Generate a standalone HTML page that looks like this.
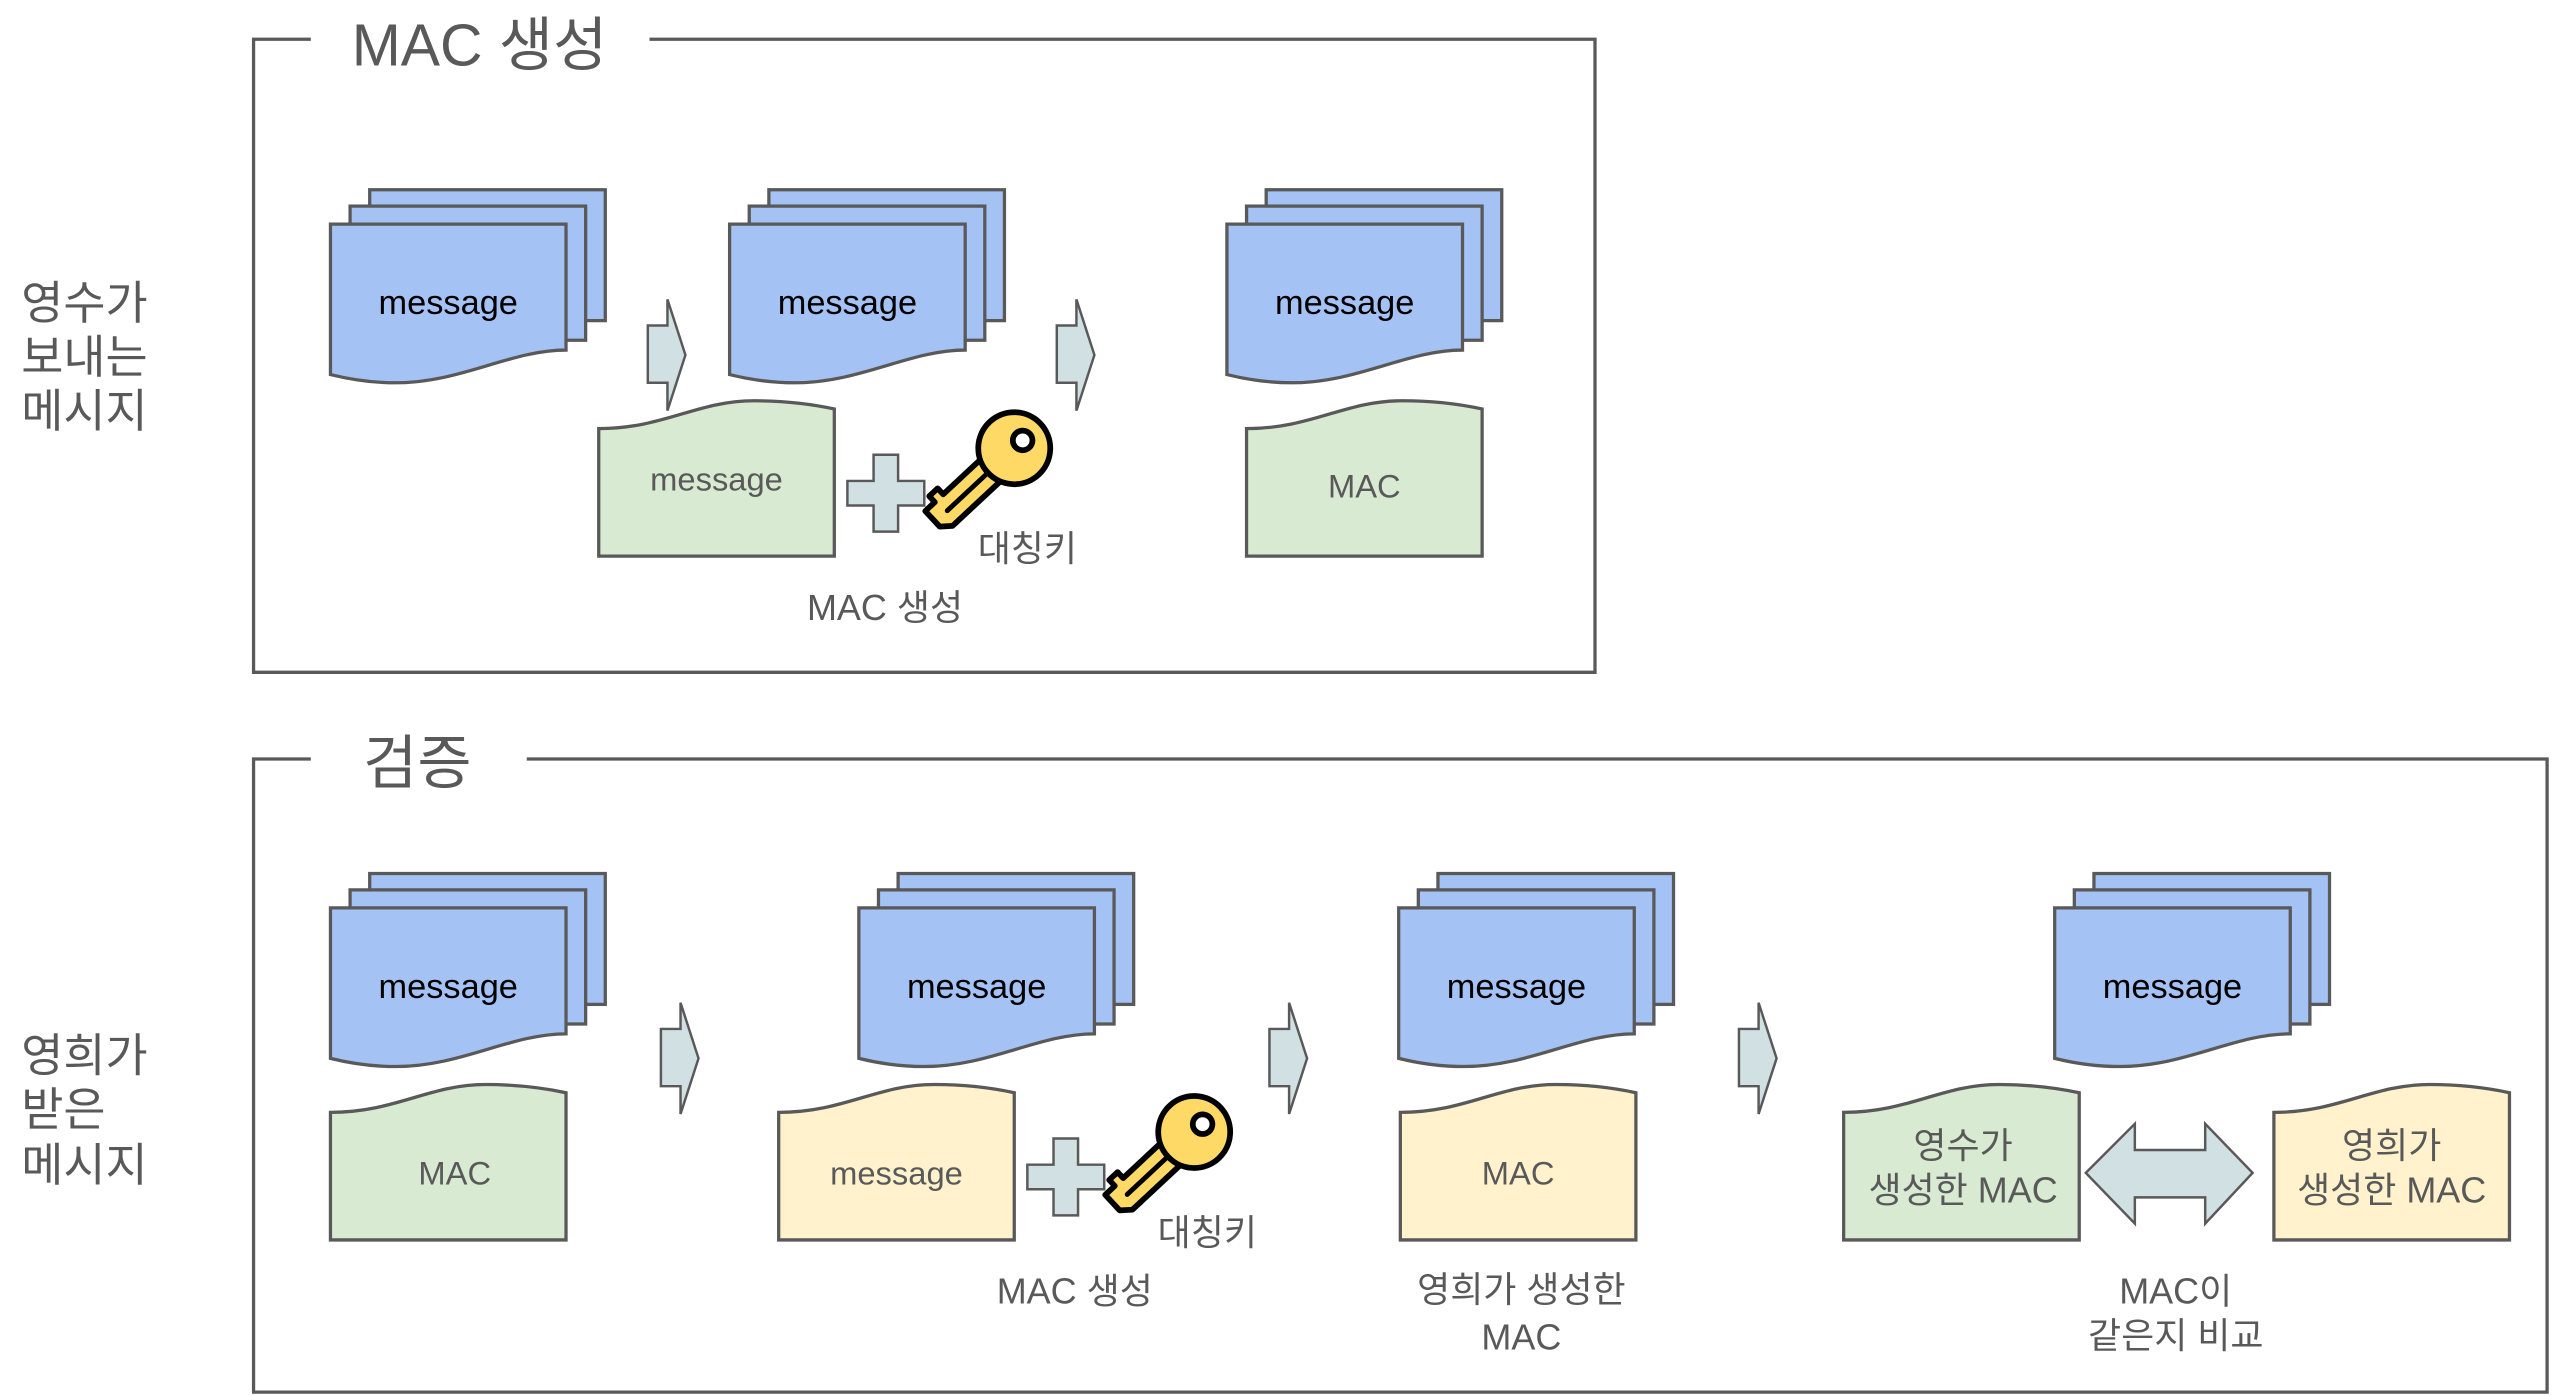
<!DOCTYPE html>
<html><head><meta charset="utf-8"><style>
html,body{margin:0;padding:0;background:#fff;}
svg{display:block;}
text{font-family:"Liberation Sans","Noto Sans CJK KR",sans-serif;}
</style></head><body>
<svg width="2552" height="1396" viewBox="0 0 1560 853.4" preserveAspectRatio="none" xmlns="http://www.w3.org/2000/svg">
<defs>
<g id="docs">
<rect x="24" y="0" width="144" height="80" fill="#a4c2f4" stroke="#595959" stroke-width="2"/>
<rect x="12" y="10" width="144" height="82" fill="#a4c2f4" stroke="#595959" stroke-width="2"/>
<path d="M0,21 H144 V98 C110,98 80,118 40,118 C25,118 12,116 0,113 Z" fill="#a4c2f4" stroke="#595959" stroke-width="2"/>
<text x="72" y="76" font-size="21" text-anchor="middle" fill="#000">message</text>
</g>
<path id="doc" d="M0,17 C40,17 60,0 95,0 C115,0 130,2 144,5 V95 H0 Z" stroke="#595959" stroke-width="2"/>
<path id="arr" d="M0,16 H12 V0 L23,34 L12,68 V51 H0 Z" fill="#d0e0e3" stroke="#595959" stroke-width="1.5"/>
<path id="plus" d="M16,0 H31 V16 H47 V31 H31 V47 H16 V31 H0 V16 H16 Z" fill="#d0e0e3" stroke="#595959" stroke-width="1.5"/>
<g id="key">
<g transform="rotate(137)">
<path d="M14,-9 H60 L66,-4 V9 H58 V14 H51 V9 H14 Z" fill="#ffd966" stroke="#000" stroke-width="3.5" stroke-linejoin="round"/>
<circle r="22" fill="#ffd966" stroke="#000" stroke-width="3.5"/>
<circle cx="-7" cy="0" r="6" fill="#fff" stroke="#000" stroke-width="3.5"/>
<line x1="24" y1="0" x2="56" y2="0" stroke="#000" stroke-width="3" stroke-linecap="round"/>
</g>
</g>
</defs>

<g fill="none" stroke="#595959" stroke-width="2">
<path d="M190,24 H155 V411 H975 V24 H397"/>
<path d="M190,464 H155 V851 H1557 V464 H322"/>
</g>
<text x="215" y="40" font-size="36" fill="#595959">MAC 생성</text>
<text x="222" y="479" font-size="36" fill="#595959">검증</text>

<g font-size="28" fill="#595959">
<text x="13" y="195">영수가</text>
<text x="13" y="228">보내는</text>
<text x="13" y="261">메시지</text>
<text x="13" y="655">영희가</text>
<text x="13" y="688">받은</text>
<text x="13" y="722">메시지</text>
</g>

<use href="#docs" x="202" y="116"/>
<use href="#docs" x="446" y="116"/>
<use href="#docs" x="750" y="116"/>
<use href="#docs" x="202" y="534"/>
<use href="#docs" x="525" y="534"/>
<use href="#docs" x="855" y="534"/>
<use href="#docs" x="1256" y="534"/>

<use href="#doc" x="366" y="245" fill="#d9ead3"/>
<use href="#doc" x="762" y="245" fill="#d9ead3"/>
<use href="#doc" x="202" y="663" fill="#d9ead3"/>
<use href="#doc" x="476" y="663" fill="#fff2cc"/>
<use href="#doc" x="856" y="663" fill="#fff2cc"/>
<use href="#doc" x="1127" y="663" fill="#d9ead3"/>
<use href="#doc" x="1390" y="663" fill="#fff2cc"/>

<g font-size="20" fill="#595959" text-anchor="middle">
<text x="438" y="300">message</text>
<text x="834" y="304">MAC</text>
<text x="278" y="724">MAC</text>
<text x="548" y="724">message</text>
<text x="928" y="724">MAC</text>
</g>
<g font-size="22" fill="#595959" text-anchor="middle">
<text x="1200" y="708">영수가</text>
<text x="1200" y="735">생성한 MAC</text>
<text x="1462" y="708">영희가</text>
<text x="1462" y="735">생성한 MAC</text>
</g>

<use href="#arr" x="396" y="183"/>
<use href="#arr" x="646" y="183"/>
<use href="#arr" x="404" y="613"/>
<use href="#arr" x="776" y="613"/>
<use href="#arr" x="1063" y="613"/>

<use href="#plus" x="518" y="278"/>
<use href="#plus" x="628" y="696"/>

<use href="#key" x="620" y="274"/>
<use href="#key" x="730" y="692"/>

<path d="M1275,717 L1305,687 V703 H1348 V687 L1377,717 L1348,748 V732 H1305 V748 Z" fill="#d0e0e3" stroke="#595959" stroke-width="1.5"/>

<g font-size="22" fill="#595959" text-anchor="middle">
<text x="628" y="343">대칭키</text>
<text x="738" y="761">대칭키</text>
<text x="541" y="379">MAC 생성</text>
<text x="657" y="797">MAC 생성</text>
<text x="930" y="796">영희가 생성한</text>
<text x="930" y="825">MAC</text>
<text x="1330" y="797">MAC이</text>
<text x="1330" y="824">같은지 비교</text>
</g>
</svg>
</body></html>
